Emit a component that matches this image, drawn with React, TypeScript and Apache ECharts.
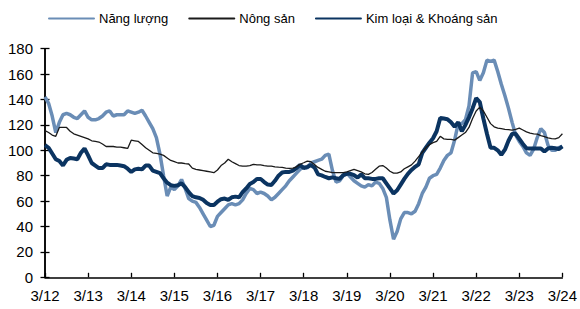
import React, { useEffect, useRef } from "react";
import * as echarts from "echarts";

// Monthly observations, 3/2012 .. 3/2024 (145 points)
const energy: number[] = [
  142, 137, 127, 114, 122, 128, 129, 128, 126, 125, 128, 131,
  126, 124, 124, 125, 127, 130, 131, 127, 128, 128, 128, 131,
  130, 129, 130, 131.5, 127, 122, 117, 110, 97, 80, 64, 71,
  69, 72, 77, 70, 62, 60, 59, 55, 50, 45, 40, 41,
  48, 51, 54, 57, 58, 57, 58, 61, 66, 70, 69, 66,
  67, 66, 64, 61, 63, 66, 69, 72, 76, 79, 82, 85,
  87, 86, 90, 91, 92, 93, 96, 97, 84, 75, 76, 80,
  82, 79, 76, 74, 72, 71, 73, 72, 75, 74, 70, 63,
  45, 30, 36, 46, 51, 51, 50, 52, 58, 66, 71, 78,
  80, 81, 86, 92, 96, 98, 108, 121, 121, 124, 135, 161,
  162, 155, 161, 171, 170, 171, 162, 152, 143, 133, 122, 112,
  107, 103, 98, 96, 101, 110, 117, 114, 104, 100, 100, 102,
  103,
];

const agriculture: number[] = [
  115.5, 114, 112, 111, 118, 118, 118, 115, 113, 112, 111, 110,
  109, 107.5, 107, 106.5, 105, 103, 103, 103, 102.5, 102.5, 102, 101.5,
  108, 107.5, 107, 104.5, 102, 100, 98, 97.5, 97, 96, 94, 92,
  91, 90, 90, 89.5, 89.2, 86, 85, 84.5, 84, 83.5, 83, 82.4,
  84.5, 88, 90, 93, 91, 89.5, 88, 87.6, 87.6, 88, 89, 88.6,
  88.5, 88, 87.6, 87.5, 87, 86.7, 86.5, 86, 85.8, 86, 87, 89,
  90.2, 91.5, 91, 88.8, 86.5, 85, 83.5, 83, 82.5, 82.4, 82.4, 82.5,
  83, 84, 85, 84, 83, 81.5, 81, 82.5, 85, 87.5, 88, 86,
  83.5, 82, 82, 83, 85.5, 87, 88.5, 91.5, 95, 98.5, 102, 104.5,
  106, 107, 111, 109, 108.6, 108.6, 108, 110, 112, 114, 118, 125,
  131, 134, 131, 126, 121, 118.5, 117.5, 117, 116.5, 116.3, 115.8, 116.5,
  117.5, 116, 114.5, 113.5, 113, 112.8, 111.5, 110.7, 109.8, 109.2, 109, 110,
  113,
];

const metals: number[] = [
  104, 102, 97.5, 93, 91.5, 88, 92.5, 94, 93.5, 93, 98, 101.5,
  96, 90, 88, 86, 86, 89, 88.5, 88.5, 88.5, 88, 87.5, 85.5,
  83, 85, 85.5, 85, 88, 88, 84, 83, 82, 78, 74.5, 72.5,
  72, 72.5, 74, 71, 67, 64, 63, 62.5, 61, 58.5, 57, 57,
  59.5, 61.5, 62, 61, 63, 63.5, 63, 67, 70, 73.5, 75, 77.5,
  77.5, 75, 73, 72.7, 76, 80, 82.5, 83, 83, 84, 86, 88.5,
  86, 87, 88.3, 86.5, 81, 80.2, 79, 78, 78.7, 78, 77.5, 80.5,
  81.5, 81.5, 80.5, 78.5, 81, 78, 78, 77.5, 77.5, 78, 78, 74,
  70, 66, 68.5, 73, 77.5, 81.5, 84.5, 87, 89, 98, 102, 106,
  109.5, 115, 125.5, 125, 124.5, 122, 118.5, 122, 115, 120, 126, 133,
  141, 138, 125, 113, 102, 102, 100, 96.5, 100.5, 107.5, 113, 113,
  109, 105, 101.6, 101.5, 101.5, 101.5, 101.5, 99, 101.5, 102, 101.6, 101,
  103,
];

const seriesNames = ["Năng lượng", "Nông sản", "Kim loại & Khoáng sản"];
const yTicks = { min: 0, max: 180, interval: 20 };
const startYear = 2012;
const startMonth = 3;

const categories: string[] = energy.map((_, i) => {
  const m = ((startMonth - 1 + i) % 12) + 1;
  const y = startYear + Math.floor((startMonth - 1 + i) / 12);
  return `${m}/${String(y % 100).padStart(2, "0")}`;
});

const FONT = "Liberation Sans";

export default function App() {
  const ref = useRef<HTMLDivElement>(null);
  useEffect(() => {
    if (!ref.current) return;
    const chart = echarts.init(ref.current, undefined, { renderer: "svg" });
    const axisLineStyle = { color: "#000", width: 1.5 };
    chart.setOption({
      animation: false,
      backgroundColor: "#fff",
      textStyle: { fontFamily: FONT },
      legend: {
        top: 7,
        left: 43,
        itemWidth: 45,
        itemHeight: 14,
        itemGap: 20,
        itemStyle: { opacity: 0 },
        lineStyle: { cap: "round" },
        data: [seriesNames[0], seriesNames[1], seriesNames[2]],
        textStyle: { fontFamily: FONT, fontSize: 13, color: "#000" },
      },
      grid: { left: 45, right: 15, top: 48.7, bottom: 31.7, containLabel: false },
      xAxis: {
        type: "category",
        data: categories,
        boundaryGap: false,
        axisLine: { lineStyle: axisLineStyle },
        axisTick: { inside: true, length: 4.5, interval: 11, lineStyle: { color: "#000", width: 1.3 } },
        axisLabel: { interval: 11, margin: 11, fontSize: 15, fontFamily: FONT, color: "#000" },
        splitLine: { show: false },
      },
      yAxis: [
        {
          type: "value",
          min: yTicks.min,
          max: yTicks.max,
          interval: yTicks.interval,
          axisLine: { show: true, lineStyle: axisLineStyle },
          axisTick: { show: true, inside: false, length: 4.5, lineStyle: { color: "#000", width: 1.3 } },
          axisLabel: { margin: 12, fontSize: 15, fontFamily: FONT, color: "#000" },
          splitLine: { show: false },
        },
        {
          type: "value",
          position: "left",
          min: yTicks.min,
          max: yTicks.max,
          interval: yTicks.interval,
          axisLine: { show: true, lineStyle: axisLineStyle },
          axisTick: { show: true, inside: true, length: 4.5, lineStyle: { color: "#000", width: 1.3 } },
          axisLabel: { show: false },
          splitLine: { show: false },
        },
      ],
      series: [
        {
          name: seriesNames[0],
          type: "line",
          data: energy,
          symbol: "none",
          lineStyle: { color: "#6A8DB6", width: 3.5 },
          itemStyle: { color: "#6A8DB6" },
          z: 2,
        },
        {
          name: seriesNames[2],
          type: "line",
          data: metals,
          symbol: "none",
          lineStyle: { color: "#0B3461", width: 4 },
          itemStyle: { color: "#0B3461" },
          z: 3,
        },
        {
          name: seriesNames[1],
          type: "line",
          data: agriculture,
          symbol: "none",
          lineStyle: { color: "#1a1a1a", width: 1.3 },
          itemStyle: { color: "#1a1a1a" },
          z: 4,
        },
      ],
    });
    return () => chart.dispose();
  }, []);
  return (
    <div
      ref={ref}
      style={{ position: "absolute", left: 0, top: 0, width: 580, height: 309 }}
    />
  );
}
